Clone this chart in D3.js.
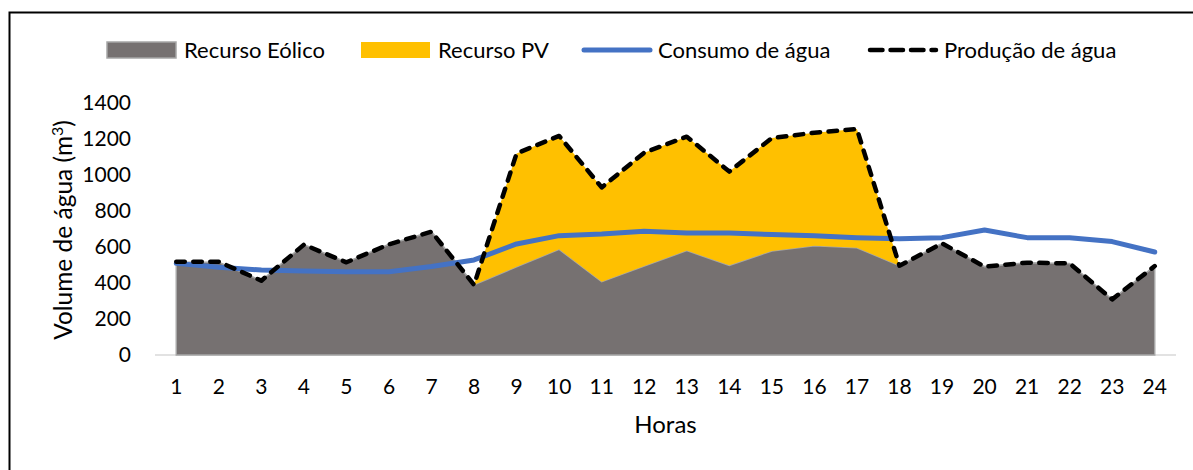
<!DOCTYPE html>
<html>
<head>
<meta charset="utf-8">
<script src="https://cdn.jsdelivr.net/npm/d3@7"></script>
<style>
  body { margin: 0; background: #fff; }
  svg text { font-family: Lato, "Open Sans", sans-serif; fill: #000; }
</style>
</head>
<body>
<svg id="chart"></svg>
<script>
const hours = d3.range(1, 25).map(String);
const wind = [515, 515, 413, 613, 515, 615, 685, 390, 490, 587, 407, 494, 580, 498, 578, 607, 596, 496, 620, 491, 513, 509, 309, 494];
const pv = [0, 0, 0, 0, 0, 0, 0, 0, 630, 630, 524, 630, 633, 521, 627, 628, 659, 0, 0, 0, 0, 0, 0, 0];
const consumption = [509, 487, 472, 467, 463, 463, 492, 528, 617, 663, 672, 687, 678, 678, 669, 663, 652, 646, 652, 694, 652, 652, 630, 572];
const production = [518, 518, 413, 613, 515, 615, 685, 390, 1120, 1217, 931, 1124, 1213, 1019, 1205, 1235, 1255, 496, 620, 491, 513, 509, 309, 494];
const yTicks = [0, 200, 400, 600, 800, 1000, 1200, 1400];
const legendItems = [
  { label: "Recurso Eólico", type: "area", color: "#767171", x: 107 },
  { label: "Recurso PV", type: "area", color: "#FFC000", x: 361 },
  { label: "Consumo de água", type: "line", color: "#4472C4", x: 582 },
  { label: "Produção de água", type: "dash", color: "#000", x: 868 },
];

const width = 1193, height = 470;
const margin = { top: 103, right: 17, bottom: 115, left: 155 };

const svg = d3.select("#chart").attr("width", width).attr("height", height);

svg.append("rect")
  .attr("x", 9.5).attr("y", 12.5)
  .attr("width", 1200).attr("height", 500)
  .attr("fill", "none").attr("stroke", "#000").attr("stroke-width", 2);

const x = d3.scalePoint().domain(hours)
  .range([margin.left, width - margin.right]).padding(0.5);
const y = d3.scaleLinear().domain([0, 1400])
  .range([height - margin.bottom, margin.top]);

const rows = hours.map((h, i) => ({ h, wind: wind[i], pv: pv[i], cons: consumption[i], prod: production[i] }));

// y labels
svg.append("g").selectAll("text").data(yTicks).join("text")
  .attr("x", 131).attr("y", (d) => y(d)).attr("dy", "0.35em")
  .attr("text-anchor", "end").attr("font-size", 21)
  .text((d) => d);

// x labels
svg.append("g").selectAll("text").data(hours).join("text")
  .attr("x", (d) => x(d)).attr("y", 394)
  .attr("text-anchor", "middle").attr("font-size", 21)
  .text((d) => d);

// baseline
svg.append("line")
  .attr("x1", margin.left).attr("x2", width - margin.right)
  .attr("y1", y(0)).attr("y2", y(0))
  .attr("stroke", "#D9D9D9").attr("stroke-width", 1.5);

const windArea = d3.area().x((d) => x(d.h)).y0(y(0)).y1((d) => y(d.wind));
const pvArea = d3.area().x((d) => x(d.h)).y0((d) => y(d.wind)).y1((d) => y(d.wind + d.pv));

svg.append("path").datum(rows)
  .attr("d", windArea)
  .attr("fill", "#767171")
  .attr("stroke", "#A6A6A6").attr("stroke-width", 1.5);

svg.append("path").datum(rows.slice(7, 18))
  .attr("d", pvArea)
  .attr("fill", "#FFC000");

svg.append("path").datum(rows)
  .attr("d", d3.line().x((d) => x(d.h)).y((d) => y(d.cons)))
  .attr("fill", "none").attr("stroke", "#4472C4")
  .attr("stroke-width", 5).attr("stroke-linejoin", "round").attr("stroke-linecap", "round");

svg.append("path").datum(rows)
  .attr("d", d3.line().x((d) => x(d.h)).y((d) => y(d.prod)))
  .attr("fill", "none").attr("stroke", "#000")
  .attr("stroke-width", 4.5).attr("stroke-dasharray", "8.5 8.5")
  .attr("stroke-linejoin", "round").attr("stroke-linecap", "round");

// axis titles
const yTitle = svg.append("text")
  .attr("transform", "translate(72,230) rotate(-90)")
  .attr("text-anchor", "middle").attr("font-size", 24.5);
yTitle.append("tspan").text("Volume de água (m");
yTitle.append("tspan").attr("font-size", 16).attr("dy", -9).text("3");
yTitle.append("tspan").attr("dy", 9).text(")");

svg.append("text")
  .attr("x", (margin.left + width - margin.right) / 2).attr("y", 433)
  .attr("text-anchor", "middle").attr("font-size", 24)
  .text("Horas");

// legend
const leg = svg.append("g").selectAll("g").data(legendItems).join("g")
  .attr("transform", (d) => `translate(${d.x},50)`);
leg.filter((d) => d.type === "area").append("rect")
  .attr("x", 0).attr("y", -8).attr("width", 69).attr("height", 16)
  .attr("fill", (d) => d.color)
  .attr("stroke", (d) => (d.color === "#767171" ? "#A6A6A6" : "none")).attr("stroke-width", 1.5);
leg.filter((d) => d.type === "line").append("line")
  .attr("x1", 2).attr("x2", 68).attr("y1", 0).attr("y2", 0)
  .attr("stroke", (d) => d.color).attr("stroke-width", 5).attr("stroke-linecap", "round");
leg.filter((d) => d.type === "dash").append("line")
  .attr("x1", 2).attr("x2", 68).attr("y1", 0).attr("y2", 0)
  .attr("stroke", "#000").attr("stroke-width", 4.5)
  .attr("stroke-dasharray", "12.5 8").attr("stroke-linecap", "round");
leg.append("text")
  .attr("x", (d) => (d.type === "area" ? 77 : 76)).attr("y", 0).attr("dy", "0.35em")
  .attr("font-size", 22)
  .text((d) => d.label);
</script>
</body>
</html>
